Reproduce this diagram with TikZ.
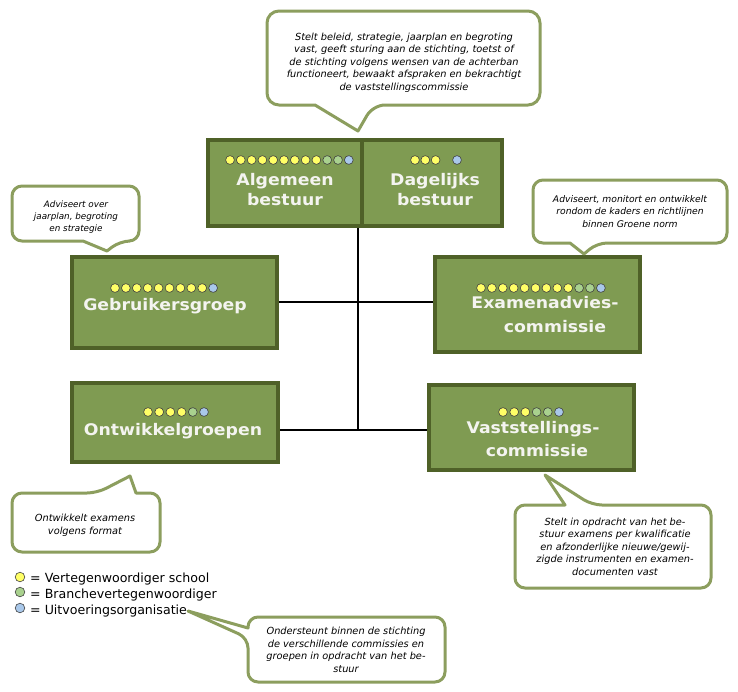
\documentclass[tikz,border=0pt]{standalone}
\usepackage{fontspec}
\setmainfont{DejaVu Sans}
\newfontfamily\titlefont{DejaVu Sans}[FakeStretch=1.08]
\definecolor{boxfill}{HTML}{7F9B52}
\definecolor{boxline}{HTML}{4F6128}
\definecolor{calline}{HTML}{8C9E5E}
\definecolor{dy}{HTML}{FFFF66}
\definecolor{dg}{HTML}{A9D18E}
\definecolor{db}{HTML}{A9C8EA}
\definecolor{titlec}{HTML}{F4F4F0}
\newcommand\dotrow[4]{\foreach \c [count=\i from 0] in {#4} {\path[dotc, fill=\c] (#1+\i*#3, #2) circle[radius=4.4pt];}}
\begin{document}
\begin{tikzpicture}[x=1pt,y=-1pt,
 orgbox/.style={draw=boxline, fill=boxfill, line width=3.8pt, inner sep=0pt, minimum width=#1},
 titletext/.style={text=titlec, font=\titlefont\fontsize{16}{20}\selectfont\bfseries, align=center, anchor=base, inner sep=0pt},
 calloutshape/.style={draw=calline, fill=white, line width=3pt, line join=round},
 calltext/.style={font=\fontsize{9.8}{12.5}\selectfont\itshape, align=center, anchor=base, inner sep=0pt},
 smallcalltext/.style={calltext, font=\fontsize{9.2}{12.2}\selectfont\itshape},
 legtext/.style={font=\fontsize{12.6}{14}\selectfont, anchor=base west, inner sep=0pt},
 link/.style={draw=black, line width=1.3pt},
 dotc/.style={draw=black!75, line width=0.6pt}]
\useasboundingbox[fill=white] (0,0) rectangle (738,691);

% connectors
\coordinate (j1) at (358,302);
\coordinate (j2) at (358,430);

% org boxes
\node[orgbox=154, minimum height=86] (AB) at (285,183) {};
\node[orgbox=140, minimum height=86] (DB) at (432,183) {};
\node[orgbox=205, minimum height=91] (geb) at (174.5,302.5) {};
\node[orgbox=205, minimum height=95] (exa) at (537.5,304.5) {};
\node[orgbox=206, minimum height=79] (ont) at (175,422.5) {};
\node[orgbox=205, minimum height=85] (vas) at (531.5,427.5) {};

\draw[link] (AB.south -| j1) -- (j2);
\draw[link] (geb.east |- j1) -- (exa.west |- j1);
\draw[link] (ont.east |- j2) -- (vas.west |- j2);

% titles (anchor base = last line)
\node[titletext] (tAB) at (285,205) {Algemeen\\bestuur};
\node[titletext] (tDB) at (435,205) {Dagelijks\\bestuur};
\node[titletext] (tgeb) at (165,310) {Gebruikersgroep};
\node[titletext] (texa1) at (545,308) {Examenadvies-};
\node[titletext] (texa2) at (555,332) {commissie};
\node[titletext] (tont) at (173,435) {Ontwikkelgroepen};
\node[titletext] (tvas1) at (533,433) {Vaststellings-};
\node[titletext] (tvas2) at (537,456) {commissie};

% dots
\dotrow{230}{160}{10.8}{dy,dy,dy,dy,dy,dy,dy,dy,dy,dg,dg,db}
\dotrow{415}{160}{10.3}{dy,dy,dy}
\dotrow{457}{160}{10.3}{db}
\dotrow{115}{288}{10.9}{dy,dy,dy,dy,dy,dy,dy,dy,dy,db}
\dotrow{481}{288}{10.9}{dy,dy,dy,dy,dy,dy,dy,dy,dy,dg,dg,db}
\dotrow{148}{412}{11.2}{dy,dy,dy,dy,dg,db}
\dotrow{503}{412}{11.2}{dy,dy,dy,dg,dg,db}

% callouts
\path[calloutshape] (315,105) [rounded corners=12pt] -- (267,105) -- (267,11) -- (540,11) -- (540,105) -- (373,105) [sharp corners] -- (358,131) -- cycle;
\node[calltext] (c1) at (404,90) {Stelt beleid, strategie, jaarplan en begroting\\vast, geeft sturing aan de stichting, toetst of\\de stichting volgens wensen van de achterban\\functioneert, bewaakt afspraken en bekrachtigt\\de vaststellingscommissie};

\path[calloutshape] (83,241) [rounded corners=10pt] -- (12,241) -- (12,186) -- (139,186) -- (139,241) -- (120,241) [sharp corners] -- (107,251) -- cycle;
\node[smallcalltext, font=\fontsize{8.8}{12}\selectfont\itshape] (c2) at (76,231) {Adviseert over\\jaarplan, begroting\\en strategie};

\path[calloutshape] (570,243) [rounded corners=10pt] -- (533,243) -- (533,180) -- (727,180) -- (727,243) -- (597,243) [sharp corners] -- (584,254) -- cycle;
\node[smallcalltext] (c3) at (630,227) {Adviseert, monitort en ontwikkelt\\rondom de kaders en richtlijnen\\binnen Groene norm};

\path[calloutshape] (136,493) [rounded corners=10pt] -- (160,493) -- (160,552) -- (12,552) -- (12,493) -- (97,493) [sharp corners] -- (130,476) -- cycle;
\node[calltext] (c4) at (85,534) {Ontwikkelt examens\\volgens format};

\path[calloutshape] (565,505) [rounded corners=10pt] -- (515,505) -- (515,588) -- (711,588) -- (711,505) -- (592,505) [sharp corners] -- (545,475) -- cycle;
\node[calltext] (c5) at (615,575) {Stelt in opdracht van het be-\\stuur examens per kwalificatie\\en afzonderlijke nieuwe/gewij-\\zigde instrumenten en examen-\\documenten vast};

\path[calloutshape] (248,628) [rounded corners=10pt] -- (248,617) -- (445,617) -- (445,682) -- (248,682) -- (248,638) [sharp corners] -- (188,611) -- cycle;
\node[calltext] (c6) at (346,672) {Ondersteunt binnen de stichting\\de verschillende commissies en\\groepen in opdracht van het be-\\stuur};

% legend
\path[dotc, fill=dy] (20,577) circle[radius=4.8pt];
\path[dotc, fill=dg] (20,592) circle[radius=4.8pt];
\path[dotc, fill=db] (20,608) circle[radius=4.8pt];
\node[legtext] (l1) at (30,582) {= Vertegenwoordiger school};
\node[legtext] (l2) at (30,598) {= Branchevertegenwoordiger};
\node[legtext] (l3) at (30,614) {= Uitvoeringsorganisatie};
\end{tikzpicture}
\end{document}
